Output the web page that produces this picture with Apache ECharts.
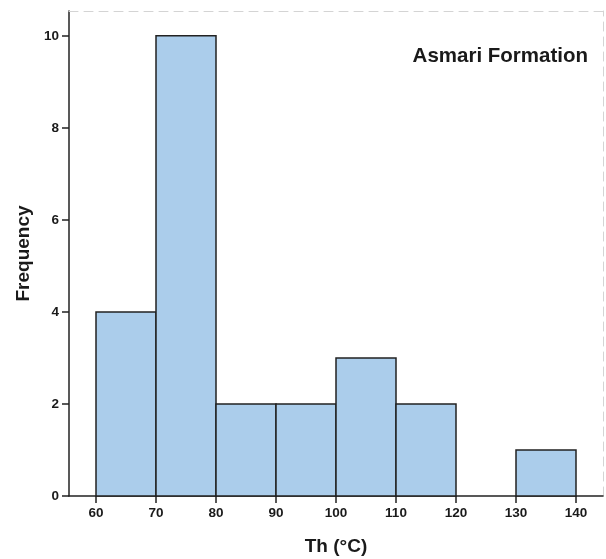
<!DOCTYPE html>
<html>
<head>
<meta charset="utf-8">
<script src="https://cdn.jsdelivr.net/npm/echarts@6/dist/echarts.min.js"></script>
<style>
html,body{margin:0;padding:0;background:#fff;}
#chart{width:606px;height:559px;}
</style>
</head>
<body>
<div id="chart"></div>
<script>
const binStarts = [60, 70, 80, 90, 100, 110, 120, 130];
const binEnds   = [70, 80, 90, 100, 110, 120, 130, 140];
const counts    = [4, 10, 2, 2, 3, 2, 0, 1];
const xTicks = [60, 70, 80, 90, 100, 110, 120, 130, 140];
const yTicks = [0, 2, 4, 6, 8, 10];
const titleText = 'Asmari Formation';
const xName = 'Th (°C)';
const yName = 'Frequency';

const data = binStarts.map((s, i) => [s, binEnds[i], counts[i]]);
const FONT = '"Liberation Sans", Arial, sans-serif';

const chart = echarts.init(document.getElementById('chart'), null, {renderer: 'canvas'});
chart.setOption({
  animation: false,
  backgroundColor: '#ffffff',
  title: {
    text: titleText,
    right: 18, top: 46, padding: 0,
    textStyle: {fontFamily: FONT, fontWeight: 'bold', fontSize: 20.5, color: '#1a1a1a'}
  },
  grid: {left: 69, right: 3, top: 11, bottom: 63, containLabel: false, outerBoundsMode: 'none'},
  xAxis: [{
    type: 'value', min: 55.5, max: 144.5,
    name: xName, nameLocation: 'middle', nameGap: 41,
    nameTextStyle: {fontFamily: FONT, fontWeight: 'bold', fontSize: 19, color: '#1a1a1a'},
    axisLine: {show: true, onZero: false, lineStyle: {color: '#222', width: 1.5}},
    axisTick: {show: true, length: 7, customValues: xTicks, lineStyle: {color: '#222', width: 1.5}},
    axisLabel: {customValues: xTicks, margin: 10, fontFamily: FONT, fontWeight: 'bold', fontSize: 13.5, color: '#1a1a1a'},
    splitLine: {show: false}
  }, {
    type: 'value', position: 'top', min: 55.5, max: 144.5,
    axisLine: {show: true, onZero: false, lineStyle: {color: '#d4d4d4', width: 1, type: [9, 6]}},
    axisTick: {show: false}, axisLabel: {show: false}, splitLine: {show: false}
  }],
  yAxis: [{
    type: 'value', min: 0, max: 10.54,
    name: yName, nameLocation: 'middle', nameGap: 36, nameRotate: 90,
    nameTextStyle: {fontFamily: FONT, fontWeight: 'bold', fontSize: 19, color: '#1a1a1a'},
    axisLine: {show: true, onZero: false, lineStyle: {color: '#222', width: 1.5}},
    axisTick: {show: true, length: 7, customValues: yTicks, lineStyle: {color: '#222', width: 1.5}},
    axisLabel: {customValues: yTicks, margin: 10, fontFamily: FONT, fontWeight: 'bold', fontSize: 13.5, color: '#1a1a1a'},
    splitLine: {show: false}
  }, {
    type: 'value', position: 'right', min: 0, max: 10.54,
    axisLine: {show: true, onZero: false, lineStyle: {color: '#d4d4d4', width: 1, type: [9, 6]}},
    axisTick: {show: false}, axisLabel: {show: false}, splitLine: {show: false}
  }],
  series: [{
    type: 'custom',
    xAxisIndex: 0, yAxisIndex: 0,
    encode: {x: [0, 1], y: 2},
    data: data,
    renderItem: function (params, api) {
      const c = api.value(2);
      if (!c) return null;
      const p1 = api.coord([api.value(0), c]);
      const p2 = api.coord([api.value(1), 0]);
      return {
        type: 'rect',
        shape: {x: p1[0], y: p1[1], width: p2[0] - p1[0], height: p2[1] - p1[1]},
        style: {fill: '#abcdeb', stroke: '#222', lineWidth: 1.5}
      };
    }
  }]
});
</script>
</body>
</html>
